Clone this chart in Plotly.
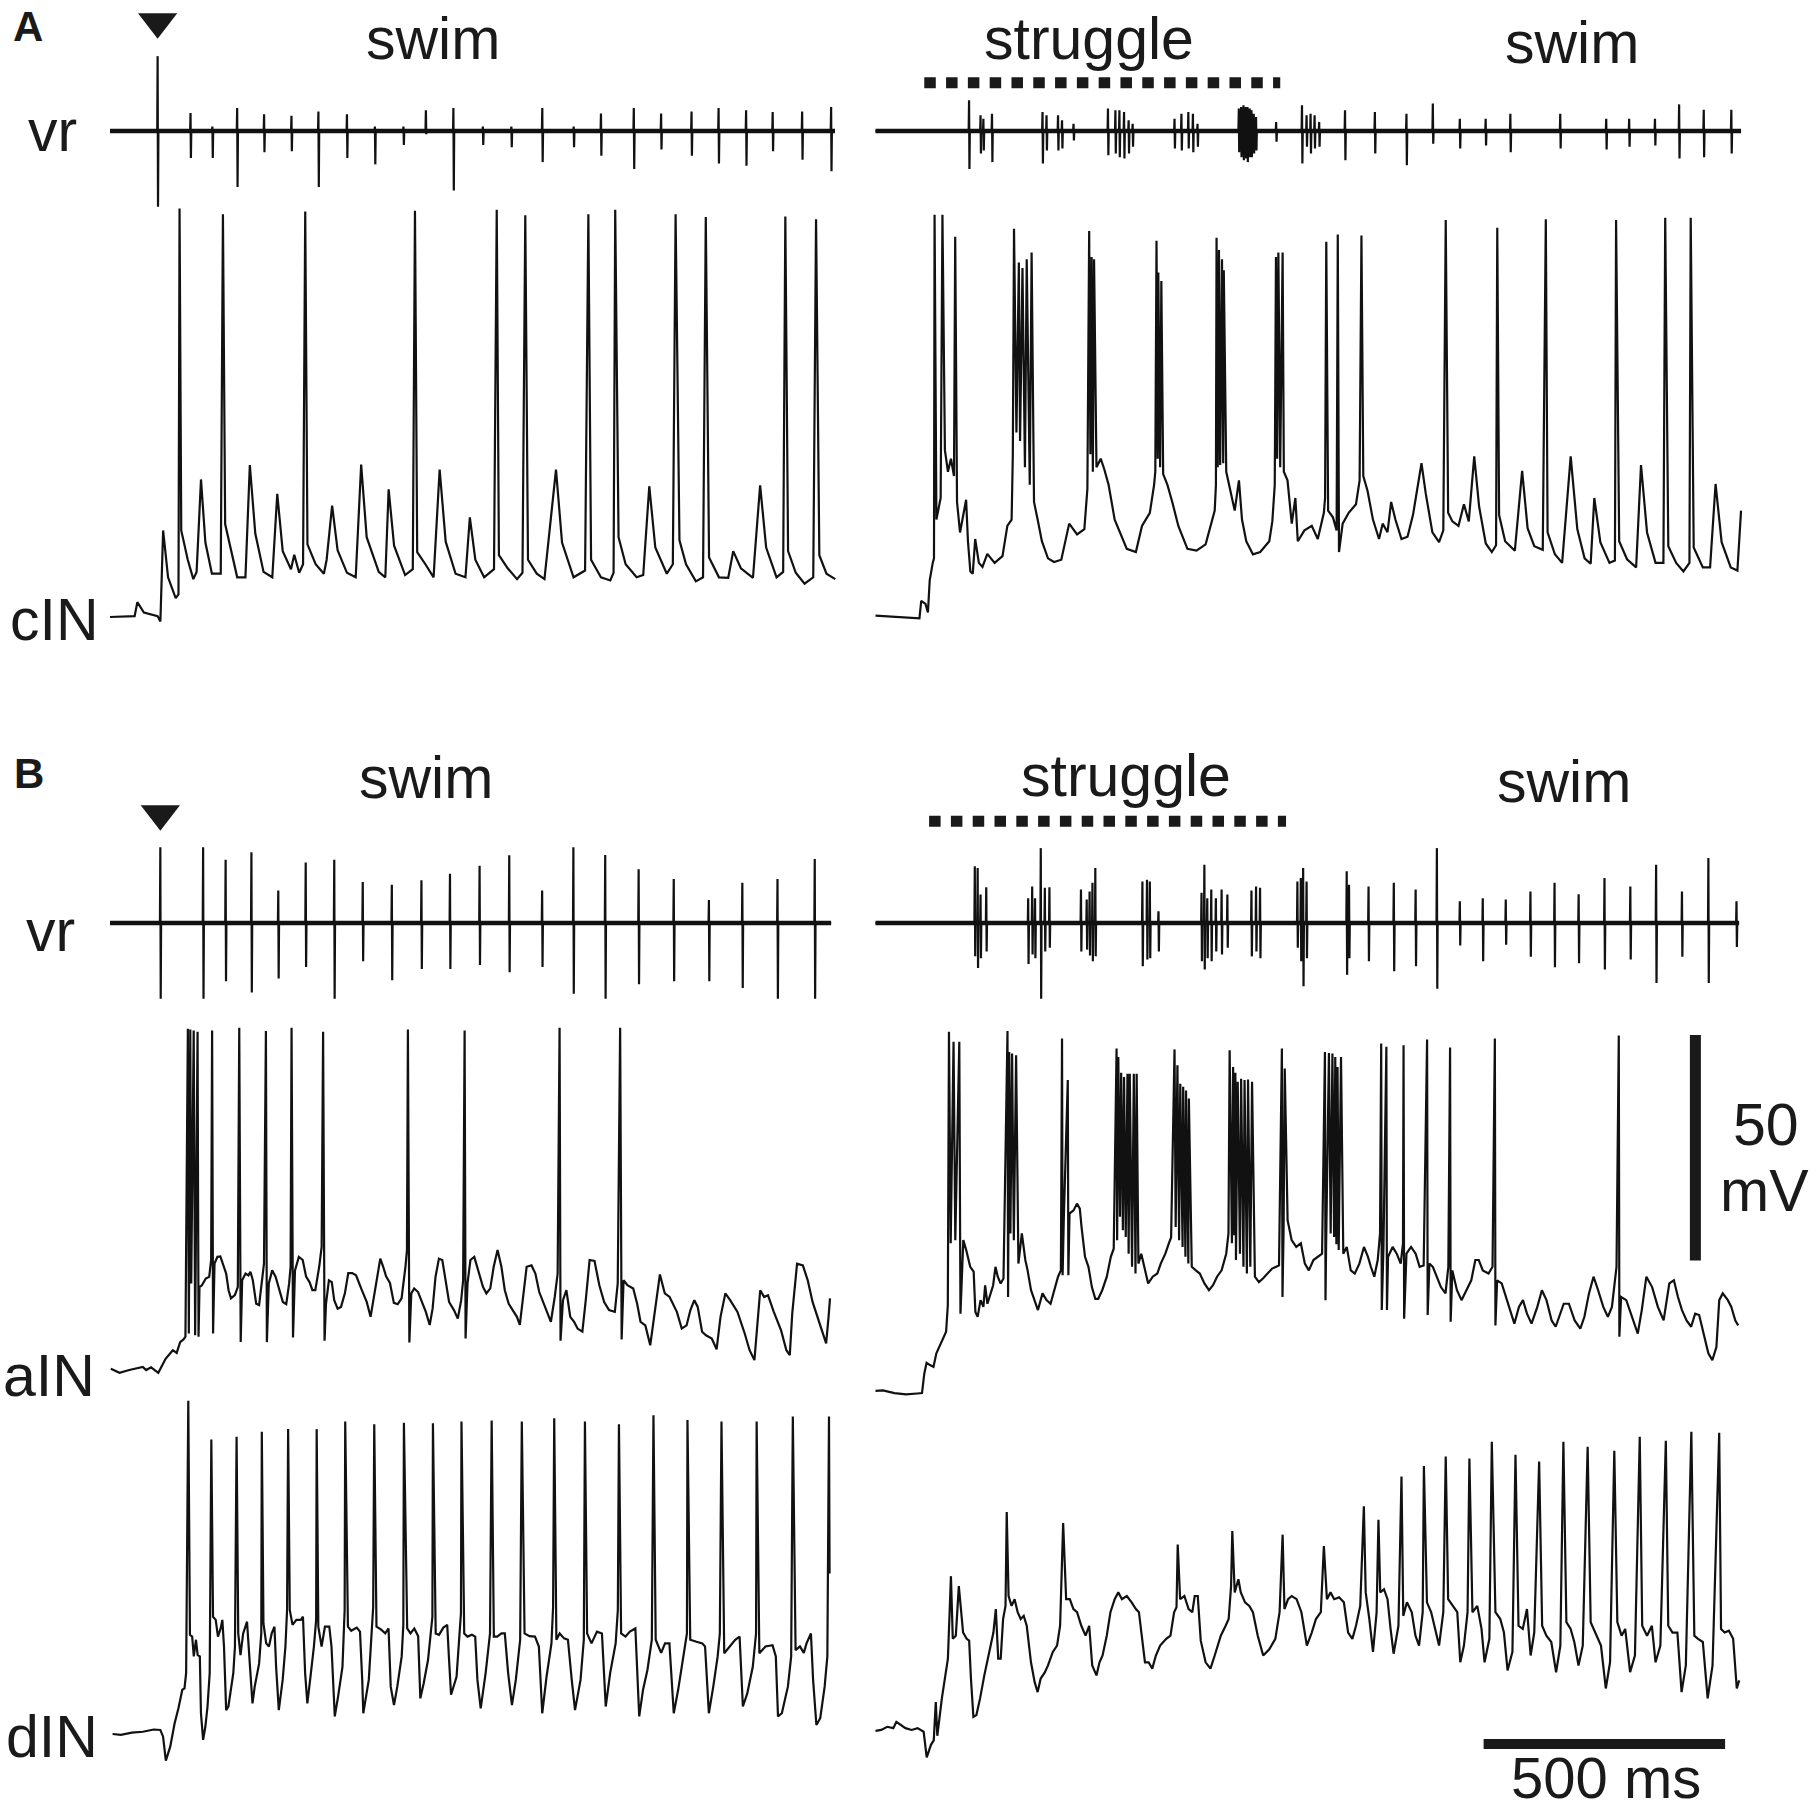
import plotly.graph_objects as go

# ------------------------------------------------------------------
# DATA (time in ms, membrane potential in mV, ventral root in a.u.)
# ------------------------------------------------------------------

# ===== Panel A, left: swim =====
A_L_vr_t  = [98.6,166.7,212,263.3,319,375.7,431.5,490.6,548.5,607.6,654,711,772,831,895,960,1016.5,1084.5,1141,1204,1260,1317,1372,1433,1493]
A_L_vr_up = [16.6,4.0,1.0,5.1,3.7,3.4,4.3,3.7,1.0,1.0,4.6,5.1,1.0,1.0,5.1,1.0,3.9,5.1,3.9,4.3,5.1,4.6,4.2,4.3,5.3]
A_L_vr_dn = [16.8,6.0,6.0,12.4,4.7,4.5,12.4,6.0,7.4,3.1,0.7,13.2,3.1,3.6,6.9,3.6,5.5,8.4,4.1,5.5,7.2,7.7,4.5,6.4,8.9]
A_L_vr_end = 1501

A_L_cIN_env_t = [0,51,56.6,70.2,98.6,104.3,110,120.2,136,141.8,147.5,161,172.5,179.3,188.4,197.5,211,229.3,
                 238.4,249.7,263.4,280.4,289.5,300.8,317.9,336,346.3,357.6,374.7,381.5,391.7,399.7,
                 408.8,425.8,442.8,448.5,459.9,471.2,490.6,508.7,520,531.4,556.4,570,576.9,588.2,611,626.9,
                 636,653,670,682.5,695,715.5,735.9,745,756.4,774.6,795,
                 805.2,823.4,842.7,854,865.4,883.6,899.5,923.4,935.9,959.7,983.6,
                 996,1016.5,1035.8,1042.6,1052.9,1067.6,1090.4,1104,1116.5,1129,1152.8,1165.3,
                 1179,1192.6,1213,1227.8,1240.3,1260.8,1280,1290.3,1306.2,1331.2,1346,1358.5,1380,1393.7,
                 1403.9,1419.8,1438,1456,1468.6,1483.4,1501.6]
A_L_cIN_env_v = [-70,-69.8,-66.7,-69,-69.8,-71,-50.8,-61.2,-65.8,-65,-50.8,-57.3,-61.6,-60,-39.5,-53.5,-60.4,-60.4,
                 -49.4,-54.6,-61.2,-61.2,-36.3,-51.5,-60,-61.2,-42.7,-55.4,-59.4,-56.2,-60.2,-58.3,
                 -53.9,-58.3,-60.4,-57.3,-45.3,-55.2,-60.2,-61.2,-36.2,-52.3,-60,-61.2,-41.7,-54.2,-60.7,-59.4,
                 -55.6,-58.3,-61.2,-37.3,-53.3,-60.4,-61.2,-47.9,-57.3,-61.2,-59.4,
                 -56.3,-59.2,-61.6,-60.2,-57.3,-60.4,-61.6,-37.3,-53.5,-61.2,-59.7,
                 -57.3,-61.2,-61.9,-60.2,-52.3,-58.3,-61.2,-60.7,-41,-54.6,-60.4,-58.3,
                 -53,-58.3,-62.1,-61.2,-56.8,-61.2,-61.3,-55.4,-59.2,-61.3,-40.8,-54.6,-61.2,-60,
                 -55.4,-60.2,-62.6,-61.2,-56.3,-60.4,-61.6]
A_L_cIN_spk_t = [144,233.8,404.2,631.4,800.7,859.8,990.4,1046,1171,1233.5,1398.2,1461.8]
A_L_cIN_spk_v = [20.6,19.3,19.9,20.1,20.3,19.1,19.3,20.3,19.3,18.7,18.8,18.2]

# ===== Panel A, right: struggle -> swim =====
A_R_vr_t  = [193.7,217.5,223.4,241.2,345.8,354.1,377.9,386.2,410,481.3,496.7,505,514.6,524.1,532.4,
             619.1,633.4,647.7,657.2,666.7,752.2,757,761.8,766.5,770.1,774.8,778.4,783.1,787.9,829.5,
             883,892.5,900.8,909.1,918.6,972.1,1033.9,1099.3,1153.9,1209.8,1263.3,1314.4,1417.7,
             1512.9,1560.4,1613.8,1663.8,1714.8,1771.9]
A_R_vr_up = [6.8,3.5,2.7,3.8,4.2,3.5,3.5,2.4,1.6,5.0,4.6,4.6,4.2,2.4,1.6,
             2.7,3.8,4.2,3.8,1.6,5.0,5.3,5.7,5.3,5.3,5.0,4.6,3.8,3.1,2.0,
             5.7,3.5,3.8,3.5,2.0,4.6,4.2,3.8,6.1,2.7,2.7,3.8,3.8,
             2.7,2.7,2.7,5.9,4.7,4.7]
A_R_vr_dn = [8.4,5.0,4.3,6.9,7.2,4.3,4.3,3.9,2.1,5.4,5.0,5.8,6.1,5.0,3.5,
             3.9,4.3,3.9,4.7,3.5,4.7,5.8,6.5,6.1,6.9,5.8,5.8,5.0,4.3,2.4,
             7.2,3.5,5.0,3.9,3.5,6.5,5.0,7.6,2.8,3.9,3.2,4.7,3.9,
             4.1,3.5,3.2,6.1,5.8,5.0]
A_R_vr_end = 1792

A_R_cIN_env_t = [0,43.2,91,94.7,103.5,108.5,112.3,118.5,121.1,126.1,134.9,143.7,150,156.2,162.5,168.8,175,187.6,191.4,196.4,201.4,
                 206.4,214,221.5,231.5,246.6,262.9,273,281.8,284.3,291.8,299.3,309.4,319.4,328.2,335.7,344.5,357.1,369.6,384.7,
                 401,417.3,432.4,438.7,444.9,450,457.5,466.3,473.8,482.6,495.2,507.7,520.3,539.1,551.7,568,576.8,
                 579.3,584.3,589.3,595.6,604.4,614.4,627,645.8,664.6,683.5,696,702.3,
                 704.8,708.6,713.6,719.9,726.2,733.7,743.7,752.5,758.8,767.6,781.4,796.5,815.3,821.6,
                 826.6,831.6,837.9,845.4,853,861.8,869.3,874.3,888.1,903.2,915.7,928.3,
                 930.8,937.1,947.1,954.7,959.6,967.2,979.7,994.8,1002.3,1009.9,1018.7,1029.9,1042.5,1050,1060.1,1067.6,
                 1076.4,1089,1101.5,1112.8,1122.9,1130.4,1139.2,1153,1166.8,1175.6,1185.6,1194.4,1207,1218.3,1228.3,
                 1239.6,1249.7,1263.5,1276,1284.8,1291.1,1303.6,1323.7,1338.8,1350.1,1363.9,1381.5,1391.5,1406.6,
                 1421.6,1439.3,1453,1468.1,1480.7,1488.2,1500.7,1519.6,1530.9,1539.7,1556,1574.8,1584.9,1597.4,
                 1615,1631.3,1641.4,1657.7,1672.7,1685.2,1694,1712.9,1727.9,1739.3,1751.8,1770.7,1784.5,1792]
A_R_cIN_env_v = [-69.7,-70,-70.3,-66.4,-67.1,-69,-61.8,-58,-57,-48.4,-43.6,-33,-37.8,-34.9,-38.75,-44.5,-51.25,-44,-53.2,-59.9,-60.4,
                 -52.7,-58,-58.9,-56,-58,-56.5,-49.8,-48.4,-34,-29.1,-31,-36.8,-40.7,-44.5,-48.4,-53.2,-57,-57.8,-57.3,
                 -49.3,-51.7,-50.5,-41.6,-33.9,-37.8,-36.8,-34.9,-37.3,-40.7,-48.4,-51.7,-54.9,-55.6,-49.8,-46.9,-40.7,
                 -37.8,-34.9,-36.8,-38.3,-40.7,-44.5,-49.8,-54.9,-55.3,-53.9,-49.3,-46.4,
                 -40.7,-36.8,-36.3,-35.9,-37.8,-41.6,-46.4,-39.7,-48.4,-53.2,-56.1,-55.6,-53.2,-48.8,
                 -40.7,-34.9,-36.8,-37.8,-39.7,-49.3,-43.6,-53.2,-50.8,-49.8,-52.7,-46.9,
                 -43.6,-46.4,-47.9,-50.8,-55.6,-49.3,-46.9,-45,-39.7,-38.75,-42,-48.4,-52.7,-49.3,-51.2,-44.5,
                 -48.4,-52.7,-52.2,-47.4,-40.7,-35.9,-42.6,-51.25,-53.4,-50.8,-46.9,-48.8,-49.8,-45,-48.8,
                 -34.4,-45.5,-53.7,-55.6,-54.1,-47.4,-53.2,-55.3,-37.6,-50.3,-54.3,-55.1,-51.25,-56.1,
                 -58,-34.4,-50.5,-57,-58.2,-43.6,-53.4,-58,-57.5,-53.2,-57.2,-59,-36.3,-51.25,
                 -58,-58,-54.3,-58,-59.9,-58,-54.6,-59,-59,-40.5,-53.4,-59,-59.7,-46.4]
A_R_cIN_spk_t = [122.3,138.6,165,286.8,296.8,304.3,313.1,323.2,442.4,447.5,452.5,581.8,585.5,591.8,
                 706.1,711.1,717.4,721.1,829.1,834.1,842.9,933.3,957.1,1006.1,1180.6,1287.3,1387.8,1533.3,1635,1687.8]
A_R_cIN_spk_v = [19.2,19.2,14.3,16.1,8.6,7.4,9.3,10.8,15.6,9.8,9.3,13.4,6.4,4.5,
                 14.1,11.4,9.3,6.9,9.8,10.8,10.8,13.2,14.8,14.6,18,16.3,18.2,18,18.5,18.5]

# ===== Panel B, left: swim =====
B_L_vr_t  = [104.2,192.8,239.4,292.8,348.4,405.2,464.3,523.3,583.5,644.8,703.9,765.2,826.6,894.7,959.4,1025.3,1094.5,1167.2,1240,1309.2,1382,1459.1]
B_L_vr_up = [16.8,16.8,14,15.7,7.2,13.4,14,9.1,8.5,9.5,10.9,12.7,15,7.2,16.8,15.1,11.9,9.75,5.1,8.9,9.75,14.2]
B_L_vr_dn = [16.8,16.8,12.9,15.4,12.3,9.75,16.8,8.5,12.7,10.2,10.2,9.3,10.9,9.75,15.7,16.8,13.6,12.9,12.9,14.4,16.8,16.8]
B_L_vr_end = 1493

B_L_aIN_env_t = [1.7,19.7,39.8,67.9,74.9,85,100,115.1,130.1,138.1,145.2,152.2,156.2,163.2,168.2,176.3,183.3,185.3,190.3,198.3,205.4,209.4,
                 213.4,216.4,222.4,228.4,235.5,240.5,245.5,250.5,258.5,264.6,270.6,273.6,280.6,286.6,290.7,295.7,302.7,308.7,314.7,318.8,
                 324.8,328.8,335.8,342.8,350.9,357.9,364.9,370.9,373.9,378.9,383,391,399,406,413.1,419.1,425.1,433.1,438.2,
                 444.2,447.2,453.2,459.2,464.2,471.3,478.3,486.3,493.3,501.4,509.4,521.4,531.5,539.5,547.5,555.6,559.6,565.6,571.6,579.6,
                 587.7,595.7,603.7,611.7,614.8,619.8,623.8,629.8,637.8,645.9,653.9,661.9,667.9,674,681,688,694,702,712.1,720.1,727.1,731.1,
                 736.2,740.2,746.2,754.2,764.3,772.3,779.3,787.3,794.4,802.4,810.4,817.4,825.5,834.5,842.5,848.5,854.6,862.6,872.6,880.7,
                 888.7,896.7,904.7,912.8,920.8,926.8,932.8,937.8,944.9,952.9,960.9,968,978,985,993,1003.1,1013.1,1023.1,1033.2,1045.2,1051.2,
                 1059.3,1063.3,1071.3,1083.3,1091.4,1098.4,1108.4,1118.5,1128.5,1138.5,1148.6,1158.6,1173.6,1183.7,1193.7,1201.7,1209.8,
                 1216.8,1225.8,1233.9,1245.9,1255.9,1264,1274,1284,1299.1,1314.1,1324.2,1334.2,1340.2,1346.2,1354.3,1362.3,1374.3,1389.4,
                 1400.4,1407.4,1412.5,1422.5,1434.5,1444.6,1454.6,1464.6,1474.7,1482.7,1487.7,1490.7]
B_L_aIN_env_v = [-69.6,-70.5,-69.9,-69.2,-69.9,-69.3,-70.5,-67.4,-65.5,-66.1,-63.7,-63.1,-62.5,-61.8,-50.7,-62.2,-62.5,-51.5,-51.1,-49.6,-49.2,-45.5,
                 -61.8,-46.3,-44.8,-44.7,-47,-48.5,-52.2,-54,-53.3,-51.5,-63.7,-50,-48.5,-48.9,-48.1,-50,-55.2,-55.5,-50.7,-46.3,
                 -63.7,-50.7,-47.8,-49.2,-52.2,-54.8,-55.3,-50.7,-47,-62.7,-47.8,-44.8,-45.5,-49.2,-50.4,-52.2,-52.2,-47,-42.6,
                 -63.4,-55.2,-50,-50.4,-54.4,-56.3,-55.9,-52.9,-48.4,-48.4,-48.9,-52.2,-54.8,-58.1,-52.9,-47,-45.2,-47,-49.1,-50.6,
                 -55,-55.3,-54,-47,-43.3,-63.8,-52.9,-51.8,-52.6,-54.8,-57,-59.9,-56.3,-49.2,-45.2,-45.5,-49.2,-54.8,-56.6,-58.5,-54.4,-50,
                 -62.9,-50.7,-45.5,-44.8,-48.5,-51.5,-52.9,-51.8,-47,-43.3,-47,-52.2,-55.2,-56.6,-58.1,-59.9,-53.7,-47,-46.7,-48.5,
                 -52.6,-54.8,-56.6,-59.2,-53.7,-48.5,-63.4,-54.4,-52.2,-58.1,-59.2,-60.7,-61.4,-54.4,-45.5,-45.7,-51.1,-54.8,-56.6,-57,-50.7,
                 -63.1,-50,-51.1,-51.8,-55.2,-59.2,-60,-64.4,-55.9,-48.7,-52.9,-53.7,-57,-60.7,-60,-56.6,-54.4,
                 -55.9,-61.4,-62.2,-62.9,-65.3,-58.1,-52.9,-54.4,-57,-61.8,-65.5,-67.7,-60.3,-52.2,-53.7,-53.3,-57,-61.1,
                 -65.5,-66.6,-57.4,-46.3,-46.7,-50,-54.8,-58.1,-61.8,-64,-58.1,-54]
B_L_aIN_spk_t = [161.2,166.2,173.3,181.3,211.4,267.6,322.8,375.9,441.2,616.8,734.2,930.8,1056.2]
B_L_aIN_spk_v = [5.8,5.6,5.4,5.1,5.4,6.0,5.3,6.0,5.1,5.6,5.4,6.0,6.0]

B_L_dIN_env_t = [5.4,22.5,45.2,67.9,90.6,104.2,109.9,115.6,124.7,133.8,141.7,149.7,154.2,157.6,
                 165.5,170.1,173.5,178,181.5,186,188.3,192.8,197.4,201.9,206.4,
                 213.3,218.9,223.5,229.1,232.6,236,240.5,245.1,255.3,258.7,
                 265.5,270.2,275.7,283.7,289.4,295,299.6,308.7,313.2,
                 317.7,323.4,329.1,334.8,340.5,343.9,349.5,357.5,363.2,366.6,
                 372.2,377.9,385.9,395,399.5,404,408.6,414.3,422.2,426.8,
                 431.3,438.1,445,454,458.6,465.4,472.2,481.3,485.8,
                 492.6,499.4,510.8,517.6,522.2,524.4,535.8,544.9,
                 551.7,560.8,569.9,576.7,581.2,588,594.8,603.9,607.3,
                 615.3,622.1,630,638,642.5,649.4,658.4,667.5,
                 674.3,681.2,690.2,698.2,701.6,706.1,717.5,724.3,726.6,
                 733.4,740.2,749.3,756.1,760.7,767.5,777.7,786.8,
                 794.7,801.5,810.6,817.4,824.3,832.2,840.2,849.2,
                 858.3,868.5,879.9,887.9,894.9,903.8,914,917.4,
                 924.2,931,940.1,948.1,956,962.8,974.2,981,
                 987.8,996.9,1008.2,1018.5,1026.4,1035.5,1046.9,1051.4,
                 1058.2,1067.3,1076.4,1087.7,1095.7,1103.6,1112.7,1121.8,
                 1129.8,1141.1,1149.1,1158.2,1167.2,1176.3,1186.5,1194.5,
                 1201.3,1212.7,1226.3,1232,1239.9,1249,1258.1,1262.6,
                 1271.7,1283.1,1294.4,1303.5,1310.3,1319.4,1330.8,1337.6,
                 1344.4,1357,1371.7,1378.5,1383,1391,1403.5,1410.3,
                 1419.4,1428.5,1436.4,1442.1,1451.2,1455.7,1462.5,1470.5,1479.6,1485.2,1489.8]
B_L_dIN_env_v = [-70.6,-70.8,-70.3,-70.1,-69.6,-69.7,-71.2,-76.5,-73.4,-68.2,-64.9,-60.8,-60.5,-57.1,
                 -48.6,-49,-53.4,-49.7,-53.1,-53.4,-66,-71.9,-69,-64.5,-57.1,
                 -44.6,-45.3,-49,-47.2,-45.3,-51.2,-65.3,-64.5,-57.1,-51.2,
                 -48.3,-53.1,-48.3,-45.7,-55,-63.8,-60.1,-55,-48.3,
                 -46.1,-50.5,-51.2,-48.3,-46.8,-55.7,-65.3,-58.6,-51.2,-43.1,
                 -43.1,-46.4,-45.3,-45.3,-44.6,-57.1,-63.8,-58.6,-51.2,-45.3,
                 -46.8,-51.2,-46.8,-46.8,-51.2,-66.7,-62.3,-55.7,-43.1,
                 -46.8,-47.7,-47,-47.9,-58.6,-66,-58.6,-42.4,
                 -46.8,-47.4,-48.3,-47.2,-60.1,-64.2,-60.1,-53.4,-46.4,
                 -47.2,-48.3,-47.2,-48.9,-62.7,-59.4,-54.2,-44.6,
                 -48.3,-48.6,-47,-46.4,-53.4,-61.9,-57.9,-48.3,-43.8,
                 -48.3,-49,-48.6,-49,-58.6,-64.9,-57.1,-48.3,
                 -49,-49,-48.3,-48.3,-57.1,-64.2,-58.6,-49.7,
                 -48.3,-48.9,-49,-51.2,-66,-57.9,-50.5,-42.4,
                 -49.7,-48.3,-49.4,-49.7,-58.6,-65.3,-58.6,-49.7,
                 -48.3,-50.5,-47.9,-48.3,-64.5,-57.1,-50.5,-43.1,
                 -48.3,-49,-47.9,-47.2,-66.7,-60.8,-56.4,-49.7,
                 -49.7,-52.6,-50.5,-50.5,-66,-60.8,-54.2,-48.3,
                 -49.7,-50.1,-50.5,-51.2,-66,-60.1,-53.4,-48.3,
                 -52.7,-51.2,-49.7,-49,-64.5,-61.6,-55.7,-48.3,
                 -52.7,-51.2,-50.9,-53.4,-66.7,-66,-60.1,-53.4,
                 -52,-51.2,-52.6,-50.5,-48.3,-58.6,-68.6,-67.1,-60.1,-53.4,-35]
B_L_dIN_spk_t = [162.1,209.8,262.1,314.3,368.8,427.9,487,547.1,608.5,668.6,727.7,790.2,852.6,919.7,983.3,1053.7,1125.2,1195.6,1266,1338.8,1413.7,1488.6]
B_L_dIN_spk_v = [3.3,-5.3,-4.7,-3.6,-3.0,-3.0,-1.3,-1.9,-1.6,-1.7,-1.3,-1.1,-1.3,-0.6,-1.3,-1.9,0.1,-1.0,-1.3,-1.3,-0.2,-0.2]

# ===== Panel B, right: struggle -> swim =====
B_R_vr_t  = [205.6,211.5,217.5,229.3,316.1,324.4,330.3,342.2,350.6,360.1,425.4,437.3,443.3,449.2,455.1,
             552.6,562.1,568,585.9,675,680.9,686.9,695.2,704.7,716.6,728.5,778.4,787.9,796.2,
             873.5,880.6,885.4,892.5,975.6,980.4,1020.8,1073.1,1118.3,1162.3,1209.8,1257.3,1304.9,1356,
             1405.9,1455.8,1509.3,1562.8,1616.2,1669.7,1724.4,1782.6]
B_R_vr_up = [12.6,12.2,6.3,7.9,5.5,8.1,5.5,16.6,7.8,7.9,7.4,5.2,7.0,8.9,12.2,
             9.2,9.6,9.2,2.6,6.7,12.9,5.5,7.4,5.5,7.4,6.3,7.2,8.1,7.8,
             9.2,10.0,12.2,9.2,11.5,8.5,8.1,8.9,7.4,16.6,4.8,5.5,5.2,7.0,
             8.9,6.4,10.0,8.1,12.9,7.0,14.4,4.8]
B_R_vr_dn = [7.4,10.0,7.8,6.3,9.1,7.0,7.8,16.8,6.3,5.5,6.3,5.9,7.2,8.5,7.4,
             9.6,8.1,7.8,6.3,8.5,10.3,7.8,8.5,6.3,7.0,5.5,7.4,6.3,7.8,
             5.5,8.5,14.0,7.8,11.5,7.8,8.5,10.7,9.6,14.6,5.0,8.5,4.8,7.5,
             9.8,8.9,10.3,8.1,13.3,7.5,13.3,5.3]
B_R_vr_end = 1788

B_R_aIN_env_t = [0,15.4,39.2,63,86.7,96.3,101,105.8,112.9,120,126,131.9,140.2,146.2,149.7,155.7,165.2,175.9,181.8,187.8,196.1,203.2,
                 206.8,211.5,217.5,223.4,227,231.7,237.7,243.6,248.4,253.1,259.1,265,274.5,279.3,286.4,295.9,303,310.2,314.9,322,
                 330.4,336.3,345.8,354.1,362.4,372,377.9,383.8,387.4,389.8,399.3,401.7,410,417.1,423,426.6,433.8,440.9,448,455.1,461.1,
                 469.4,478.9,487.2,493.2,500.3,506.2,512.2,518.1,524.1,531.2,538.3,544.3,550.2,556.2,564.5,574,583.5,590.6,600.1,607.3,612,
                 621.5,628.6,635.8,641.7,647.7,654.8,663.1,671.4,681,690.4,698.8,707.1,716.6,726.1,730.8,
                 738,742.8,746.3,754.6,761.8,768.9,776,785.5,793.8,802.2,811.7,821.2,829.5,835.4,842.6,844.9,853.2,861.6,871.1,880.6,888.9,
                 897.2,906.7,916.2,924.6,931.7,932.9,942.4,949.5,954.2,959,968.5,975.7,984,992.3,1001.8,1011.3,1019.6,1025.6,1032.7,1039.8,
                 1044.6,1048.2,1051.7,1058.9,1061.2,1070.7,1079.1,1087.4,1092.1,1094.5,1099.3,1108.8,1118.3,1126.6,1134.9,1143.2,1146.8,
                 1153.9,1162.3,1170.6,1180.1,1186,1190.8,1194.3,1203.8,1213.3,1222.9,1233.5,1241.9,1249,1257.3,1269.2,1277.5,1283.5,1287,
                 1296.5,1304.9,1313.2,1322.7,1332.2,1340.5,1348.8,1358.3,1370.2,1379.7,1389.2,1399.9,1408.2,1417.7,1424.9,1435.6,1447.5,
                 1459.3,1467.7,1477.2,1486.6,1496.1,1506.8,1516.3,1524.7,1534.2,1540.1,1543.7,1554.4,1566.3,1578.2,1586.5,1596,1607.9,
                 1619.8,1631.7,1643.5,1653,1661.4,1669.7,1679.2,1688.7,1697,1705.3,1714.8,1724.3,1732.6,1741,1746.9,1754.1,1764.7,
                 1771.9,1780.2,1786.1]
B_R_aIN_env_v = [-74.5,-74.4,-75,-75.3,-75.1,-75,-70.7,-68.3,-68.8,-69.2,-66.2,-64.8,-62.5,-61.4,-55.5,-41.8,-41.1,-57.4,-41.1,-43.3,-47,-48.1,
                 -57,-58.1,-54.4,-55.9,-51.1,-55.2,-52.9,-51.1,-47,-49.2,-50.7,-49.6,-53.7,-39.6,-41.1,-46.3,-39.6,-45.5,-47.8,-52.2,
                 -54.8,-56.6,-52.9,-54.4,-55.2,-51.5,-49.2,-47.8,-48.9,-36.7,-48.9,-35.2,-34.5,-33,-34.1,-38.2,-44.8,-47,-51.5,-54.1,-54.1,
                 -52.2,-49.2,-44.8,-43,-41.1,-35.9,-38.9,-40.4,-44.1,-47,-48.5,-46.3,-44.1,-47,-50.7,-49.2,-48.5,-46.3,-44.1,-41.8,-40.5,
                 -38.2,-41.1,-42.6,-44.8,-46.3,-47,-47.8,-48.5,-50.7,-52.2,-51.1,-49.2,-47.8,-44.1,-39.6,
                 -41.8,-40,-45.5,-44.1,-47,-48.5,-47,-49.2,-50.4,-49.6,-48.5,-47.4,-47,-46.7,-53.7,-38.9,-36.7,-41.1,-42.6,-41.8,-46.3,
                 -47.8,-45.5,-44.8,-44.1,-54.4,-42.6,-39.6,-40.4,-42,-43.3,-44.1,-42.6,-47.8,-48.5,-46.3,-42.6,-44.8,-47,-49.2,-45.5,
                 -39.6,-56.6,-42.6,-56.6,-44.8,-42.6,-44.1,-46.3,-41.8,-58.5,-44.1,-42.6,-44.1,-47,-46.7,-57.7,-46.3,
                 -47,-49.2,-51.5,-52.9,-47,-59.2,-47.8,-52.2,-54.4,-52.2,-50,-45.5,-45.5,-47.8,-48.5,-47,-60,-50,
                 -50.7,-53.7,-56.6,-59.6,-55.9,-54.4,-57.4,-59.6,-55.9,-52.2,-54.4,-58.9,-60.3,-57.4,-55.2,-55.2,-58.9,
                 -60.7,-58.1,-52.9,-49.2,-52.2,-55.9,-58.1,-55.9,-47,-62.5,-53.7,-54.4,-58.1,-61.8,-56.6,-49.2,-51.5,
                 -55.9,-58.9,-50.7,-50,-53.7,-56.6,-58.9,-60.3,-57.4,-57.7,-61.8,-66.2,-67.7,-64.8,-54.4,-52.9,-54.4,
                 -55.9,-58.9,-60]
B_R_aIN_spk_t = [152.1,161.6,173.5,273.3,276.9,282.8,291.1,386.2,398.1,499.1,502.7,508.6,514.6,521.7,526.4,534.8,540.7,
                 619.1,625.1,631,637,642.9,648.8,733.2,740.4,745.1,749.9,757,764.1,771.3,779.6,841.4,847.3,
                 930.5,938.8,946,951.9,956.6,963.8,1047,1057.7,1093.3,1142,1189.6,1282.3,1538.9]
B_R_aIN_spk_v = [5.1,2.9,2.9,5.3,0.6,0.3,-0.1,3.6,-5.6,1.4,-0.5,-4,-4.9,-4.2,-4.2,-4.2,-4.2,
                 1.2,-2.3,-6.4,-7.1,-7.9,-9.7,1,-2.7,-4,-6,-5.3,-5.6,-5.5,-6,1.4,-3.05,
                 0.6,0.4,0.3,-0.5,-2.7,-0.5,2.5,1.8,2.1,3.4,1.6,3.6,4.3]

B_R_dIN_env_t = [0,11.8,24.4,36.9,43.2,53.3,62.1,74.6,87.2,99.7,106,114.8,120.6,124.8,128,137.4,143.7,149.9,
                 160,166.3,168.8,172.5,176.3,181.3,188.8,193.9,197.6,202.7,208.9,216.5,225.3,234,244.1,249.1,254.1,259.2,264.2,269.2,
                 275.5,281.8,288,294.3,300.6,306.9,313.1,321.9,329.5,335.7,342,350.8,357.1,367.1,375.9,382.2,
                 394.7,402.3,409.8,417.3,426.1,434.9,442.4,448.7,457.5,463.8,470.1,478.8,486.4,495.2,502.7,510.2,520.3,530.3,539.1,545.4,
                 551.7,557.9,565.5,573,580.5,589.3,601.9,610.7,618.2,623.2,
                 630.7,639.5,648.3,655.9,660.9,667.2,673.4,683.5,693.5,702.3,714.9,724.9,731.2,736.2,
                 743.7,751.3,756.3,765.1,773.9,781.4,791.4,802.7,815.3,827.8,836.6,
                 846.7,854.2,861.7,871.8,881.8,893.1,903.2,911.9,922,
                 934.6,942.1,949.6,959.7,969.7,978.5,987.3,994.8,1003.6,
                 1014.9,1022.4,1030,1037.5,1045,1052.8,1060.1,1066.4,1072.7,1082.7,
                 1092.7,1100.3,1110.3,1117.9,1125.4,1132.9,1141.7,1150.5,1158,1166.8,1175.6,
                 1185.6,1195.7,1204.5,1210.7,1218.3,1225.8,1235.9,1245.9,1254.7,1261,1271,
                 1283.5,1293.6,1301.1,1308.6,1318.7,1331.3,1340.1,1348.8,1356.4,1363.9,
                 1380.2,1389,1399.1,1409.1,1417.9,1430.4,1439.2,1446.8,1455.5,1464.3,
                 1480.7,1490.7,1502,1512,1520.8,1535.9,1544.7,1552.2,1562.3,1572.3,
                 1587.4,1597.4,1607.4,1615,1625,1641.3,1650.1,1660.2,1668.9,1677.7,
                 1695.3,1702.9,1712.9,1722.9,1733,1750.6,1758.1,1766.9,1775.7,1783.2,1788.2]
B_R_dIN_env_v = [-69.9,-69.7,-69,-69.3,-67.9,-68.6,-69.3,-69.7,-69.3,-70.1,-75.8,-73,-72,-63.5,-71,-62.7,-58.3,-53.9,
                 -49.5,-48.8,-43.6,-37.8,-42.2,-48.1,-49.5,-49.9,-58.3,-66.8,-66.4,-62.7,-57.6,-53.2,-48.1,-42.9,-53.9,-53.9,-45.1,-42.2,
                 -40,-42.2,-40.7,-43.6,-45.1,-44.4,-46.6,-54.7,-59.1,-61.3,-58.3,-56.9,-55.4,-52.4,-51,-46.6,
                 -40.7,-40.7,-42.9,-43.6,-46.6,-48.8,-46.6,-55.4,-57.6,-54.7,-53.2,-48.8,-43.6,-40.7,-39.2,-40.7,-40,-41.4,-42.9,-43.6,
                 -49.5,-54.7,-54.7,-56.1,-53.2,-51,-49.5,-48.8,-43.6,-42.5,
                 -40.7,-40,-42.9,-43.6,-40,-40,-49.9,-54.7,-56.1,-53.2,-48.8,-46.6,-45.1,-37.8,
                 -39.2,-36.3,-39.2,-41.4,-42.2,-43.6,-48.8,-53.2,-51.8,-49.5,-43.6,
                 -42.9,-40.7,-40,-40.7,-43.6,-51,-48.1,-45.1,-43.6,
                 -40.7,-39.2,-40.7,-40.3,-41.4,-48.1,-49.5,-46.6,-42.2,
                 -39.2,-45.1,-52.4,-43.6,-39.2,-38.5,-40.7,-47.3,-52.8,-46.6,
                 -44.4,-41.4,-43.6,-48.8,-51,-43.6,-41.4,-43.6,-47.3,-51,-43.6,
                 -40.7,-42.2,-43.6,-54.7,-51,-43.6,-43.6,-42.2,-47.3,-54.7,-49.5,
                 -43.6,-45.1,-48.1,-56.5,-52.4,-46.6,-47.3,-42.9,-53.2,-48.1,
                 -46.6,-48.8,-50.2,-56.9,-51,-45.8,-47.3,-50.2,-55.4,-51,
                 -45.8,-48.1,-51,-60.5,-54.7,-45.8,-48.8,-47.3,-56.9,-53.2,
                 -46.6,-48.8,-46.6,-54.7,-51,-46.6,-48.1,-48.1,-61.3,-55.4,
                 -48.8,-49.5,-50.2,-62.7,-55.4,-47.3,-48.1,-47.7,-49.5,-60.5,-58.7]
B_R_dIN_spk_t = [156.2,271.7,388.5,625.7,738.7,842.9,928.3,1011.1,1041.3,1089,1135.4,1180.6,1229.6,1276,1325,1374,
                 1424.2,1474.4,1529.6,1582.3,1636.3,1689.1,1746.8]
B_R_dIN_spk_v = [-35.6,-21.4,-23.8,-28.6,-25.6,-26.4,-28.9,-20.1,-23.1,-13.5,-11.2,-9.1,-9.5,-5.8,-8.7,-10.2,
                 -5.8,-6.9,-7.8,-4.7,-5.6,-3.6,-3.8]

# stimulus times (arrowheads) and labelled periods
STIM_A = A_L_vr_t[0]
STIM_B = B_L_vr_t[0]
STRUGGLE_A = [101, 838]
STRUGGLE_B = [111, 850]
SCALE_MS = 500
SCALE_MV = 50

# ------------------------------------------------------------------
# LAYOUT CONSTANTS (pixels)
# ------------------------------------------------------------------
W, H = 1811, 1813
PX_PER_MS = 0.483
PX_PER_MV = 4.51
X0_LEFT, X0_RIGHT = 110.0, 875.5
ROW = {
    "vrA": (0.0, 131.0),
    "cIN": (-70.0, 617.0),
    "vrB": (0.0, 923.0),
    "aIN": (-70.0, 1370.5),
    "dIN": (-70.0, 1731.3),
}
FONT = "Liberation Sans, Arial, Helvetica, sans-serif"
INK = "#111111"


def xr(x0):
    return [-x0 / PX_PER_MS, (W - x0) / PX_PER_MS]


def yr(key):
    v0, y0 = ROW[key]
    return [v0 - (H - y0) / PX_PER_MV, v0 + y0 / PX_PER_MV]


def vr_xy(ts, ups, dns, t_end):
    x, y = [0.0], [0.0]
    for t, u, d in zip(ts, ups, dns):
        x += [t - 0.8, t, t + 0.8, t + 1.6]
        y += [0.0, u, -d, 0.0]
    x.append(t_end)
    y.append(0.0)
    return x, y


def ic_xy(et, ev, st, sv):
    pts = sorted(list(zip(et, ev)) + list(zip(st, sv)), key=lambda p: p[0])
    return [p[0] for p in pts], [p[1] for p in pts]


fig = go.Figure()


def add_line(x, y, xa, ya, w=2.0):
    fig.add_trace(go.Scatter(x=x, y=y, xaxis=xa, yaxis=ya, mode="lines",
                             line=dict(color=INK, width=w), hoverinfo="skip",
                             showlegend=False))


for ts, ups, dns, te, xa, ya in [
    (A_L_vr_t, A_L_vr_up, A_L_vr_dn, A_L_vr_end, "x", "y"),
    (A_R_vr_t, A_R_vr_up, A_R_vr_dn, A_R_vr_end, "x2", "y"),
    (B_L_vr_t, B_L_vr_up, B_L_vr_dn, B_L_vr_end, "x", "y3"),
    (B_R_vr_t, B_R_vr_up, B_R_vr_dn, B_R_vr_end, "x2", "y3"),
]:
    add_line([0, te], [0, 0], xa, ya, w=4.4)
    x, y = vr_xy(ts, ups, dns, te)
    add_line(x, y, xa, ya, w=2.2)

for et, ev, st, sv, xa, ya in [
    (A_L_cIN_env_t, A_L_cIN_env_v, A_L_cIN_spk_t, A_L_cIN_spk_v, "x", "y2"),
    (A_R_cIN_env_t, A_R_cIN_env_v, A_R_cIN_spk_t, A_R_cIN_spk_v, "x2", "y2"),
    (B_L_aIN_env_t, B_L_aIN_env_v, B_L_aIN_spk_t, B_L_aIN_spk_v, "x", "y4"),
    (B_R_aIN_env_t, B_R_aIN_env_v, B_R_aIN_spk_t, B_R_aIN_spk_v, "x2", "y4"),
    (B_L_dIN_env_t, B_L_dIN_env_v, B_L_dIN_spk_t, B_L_dIN_spk_v, "x", "y5"),
    (B_R_dIN_env_t, B_R_dIN_env_v, B_R_dIN_spk_t, B_R_dIN_spk_v, "x2", "y5"),
]:
    x, y = ic_xy(et, ev, st, sv)
    add_line(x, y, xa, ya, w=2.2)

for t, ya in [(STIM_A, "y"), (STIM_B, "y3")]:
    fig.add_trace(go.Scatter(x=[t], y=[24.2], xaxis="x", yaxis=ya, mode="markers",
                             marker=dict(symbol="triangle-down", size=34, color="#1a1a1a"),
                             hoverinfo="skip", showlegend=False))

shapes = []
for (t0, t1), ypx in [(STRUGGLE_A, 82.8), (STRUGGLE_B, 821.2)]:
    shapes.append(dict(type="line", xref="x2", yref="paper", x0=t0, x1=t1,
                       y0=1 - ypx / H, y1=1 - ypx / H,
                       line=dict(color="#1a1a1a", width=11, dash="11.5px,10.3px")))
bar_t = 1697.5
shapes.append(dict(type="line", xref="x2", yref="y4", x0=bar_t, x1=bar_t,
                   y0=-45.6, y1=-45.6 + SCALE_MV, line=dict(color="#1a1a1a", width=11)))
shapes.append(dict(type="line", xref="x2", yref="y5", x0=1259, x1=1259 + SCALE_MS,
                   y0=-72.8, y1=-72.8, line=dict(color="#1a1a1a", width=10)))


def ann(text, xpx, ypx, size=59, bold=False, yanchor="middle"):
    return dict(text=f"<b>{text}</b>" if bold else text, x=xpx / W, y=1 - ypx / H,
                xref="paper", yref="paper", showarrow=False, xanchor="center",
                yanchor=yanchor, font=dict(family=FONT, size=size, color="#1a1a1a"))


annotations = [
    ann("A", 28, 26, size=42, bold=True),
    ann("B", 29, 773, size=42, bold=True),
    ann("swim", 433, 39),
    ann("struggle", 1089, 39),
    ann("swim", 1572, 43),
    ann("vr", 52, 131),
    ann("cIN", 54, 620),
    ann("swim", 426, 778),
    ann("struggle", 1126, 776),
    ann("swim", 1564, 782),
    ann("vr", 50, 931),
    ann("aIN", 49, 1376),
    ann("dIN", 52, 1737),
    ann("50", 1766, 1125),
    ann("mV", 1764, 1191),
    ann(f"{SCALE_MS} ms", 1606, H - 1, size=58, yanchor="bottom"),
]

axis_common = dict(visible=False, showgrid=False, zeroline=False, fixedrange=True)
fig.update_layout(
    width=W, height=H, margin=dict(l=0, r=0, t=0, b=0),
    paper_bgcolor="white", plot_bgcolor="white", showlegend=False,
    xaxis=dict(domain=[0, 1], range=xr(X0_LEFT), anchor="y", **axis_common),
    xaxis2=dict(domain=[0, 1], range=xr(X0_RIGHT), anchor="y", overlaying="x", **axis_common),
    yaxis=dict(domain=[0, 1], range=yr("vrA"), anchor="x", **axis_common),
    yaxis2=dict(domain=[0, 1], range=yr("cIN"), anchor="x", overlaying="y", **axis_common),
    yaxis3=dict(domain=[0, 1], range=yr("vrB"), anchor="x", overlaying="y", **axis_common),
    yaxis4=dict(domain=[0, 1], range=yr("aIN"), anchor="x", overlaying="y", **axis_common),
    yaxis5=dict(domain=[0, 1], range=yr("dIN"), anchor="x", overlaying="y", **axis_common),
    shapes=shapes, annotations=annotations, hovermode=False,
)

fig.write_html("out.html",
               config={"displayModeBar": False, "staticPlot": True},
               post_script="document.body.style.margin='0';document.body.style.overflow='hidden';")
